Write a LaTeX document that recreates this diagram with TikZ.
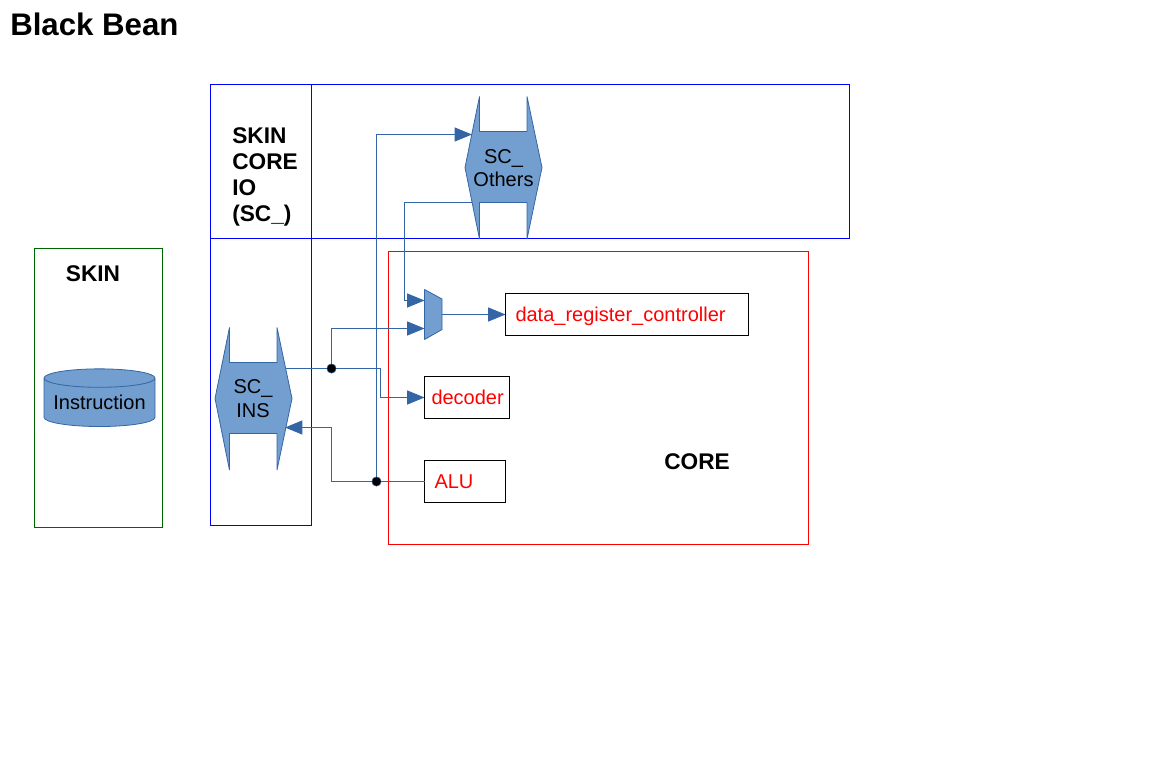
\documentclass[tikz,border=0pt]{standalone}
\usepackage{fontspec}
\setmainfont{Liberation Sans}
\usetikzlibrary{arrows.meta}
\usetikzlibrary{shapes.geometric}

\definecolor{busfill}{HTML}{729FCF}
\definecolor{busline}{HTML}{3465A4}
\definecolor{skingreen}{HTML}{006400}

\tikzset{
  bus port/.pic={
    \path[fill=busfill,draw=busline,line width=.6pt,line join=bevel]
      (-24,-71) -- (-24,-36) -- (23.5,-36) -- (23.5,-71) -- (38.5,0) -- (23.5,71.5)
      -- (23.5,35) -- (-24,35) -- (-24,71.5) -- (-38.5,0) -- cycle;
  }
}

\begin{document}
\begin{tikzpicture}[x=.75pt,y=-.75pt,>={Triangle[length=13pt,width=10.5pt]},
  label text/.style={font=\bfseries\fontsize{17}{19.5}\selectfont,align=left},
  shape text/.style={font=\fontsize{15}{17.5}\selectfont,align=center,inner sep=0pt},
  block/.style={draw,text=red,font=\fontsize{15}{18}\selectfont,anchor=north west,outer sep=0pt,minimum height=31.5pt,align=left,text height=11pt,text depth=1.2pt},
  frame/.style={draw,line width=.75pt,anchor=north west,outer sep=0pt},
  wire/.style={draw=busline,line width=.75pt},
  junction/.style={circle,fill=black,draw=busline,line width=.4pt,inner sep=0pt,minimum size=7pt}]

  \useasboundingbox (0,0) rectangle (1172,782);

  \node[anchor=west,inner sep=0pt,font=\bfseries\fontsize{23.4}{26}\selectfont] (title) at (10,24) {Black Bean};

  % frames
  \node[frame,draw=skingreen,minimum width=96pt,minimum height=209.25pt] (skin) at (34.5,248.5) {};
  \node[frame,draw=blue,minimum width=75.75pt,minimum height=330.75pt] (sccol) at (210.5,84.5) {};
  \node[frame,draw=blue,minimum width=479.25pt,minimum height=115.5pt] (scrow) at (210.5,84.5) {};
  \node[frame,draw=red,minimum width=315pt,minimum height=219.75pt] (core) at (388.5,251.5) {};

  \node[label text] (skinlabel) at (93,274) {SKIN};
  \node[label text,anchor=north west,inner sep=0pt] (sclabel) at (232,127) {SKIN\\CORE\\IO\\(SC\_)};
  \node[label text] (corelabel) at (697,462) {CORE};

  % instruction memory
  \node[cylinder,shape border rotate=90,shape aspect=.2,draw=busline,fill=busfill,line width=.6pt,
    minimum width=83.25pt,minimum height=43.25pt,inner sep=0pt,font=\fontsize{15}{18}\selectfont] (instr) at (99.5,402.5) {Instruction};

  % bus ports
  \pic at (253.5,398.5) {bus port};
  \pic at (503.5,167.5) {bus port};
  \node[shape text] (scins) at (253,398.5) {SC\_\\INS};
  \node[shape text] (scothers) at (503.5,168) {SC\_\\Others};
  \coordinate (insout) at (286,368.5);
  \coordinate (insin) at (285,427.5);
  \coordinate (othersin) at (472,134.5);
  \coordinate (othersout) at (472,202.5);

  % mux
  \path[fill=busfill,draw=busline,line width=.6pt,line join=bevel] (424.5,289.5) -- (442,299) -- (442,329.5) -- (424.5,339.5) -- cycle;
  \coordinate (muxa) at (424.5,300.5);
  \coordinate (muxb) at (424.5,328.5);
  \coordinate (muxout) at (442,314.5);

  % core blocks
  \node[block,inner xsep=7.5pt,text width=167.25pt] (datareg) at (505.5,293.5) {data\_register\_controller};
  \node[block,inner xsep=5.25pt,text width=53.25pt] (decoder) at (424.5,376.5) {decoder};
  \node[block,inner xsep=7.5pt,text width=45.75pt] (alu) at (424.5,460.5) {ALU};

  \node[junction] (dota) at (331.5,368.5) {};
  \node[junction] (dotb) at (376.5,481.5) {};

  % wires
  \path[wire] (insout) -- (dota);
  \path[wire,->] (dota) -- (380.5,368.5) -- (380.5,397.5) -- (decoder.west);
  \path[wire,->] (dota) |- (muxb);
  \path[wire] (alu.west) -- (dotb);
  \path[wire,->] (dotb) -- (331.5,481.5) -- (331.5,427.5) -- (insin);
  \path[wire,->] (dotb) |- (othersin);
  \path[wire,->] (othersout) -- (404.5,202.5) -- (404.5,300.5) -- (muxa);
  \path[wire,->] (muxout) -- (datareg.west);

\end{tikzpicture}
\end{document}
